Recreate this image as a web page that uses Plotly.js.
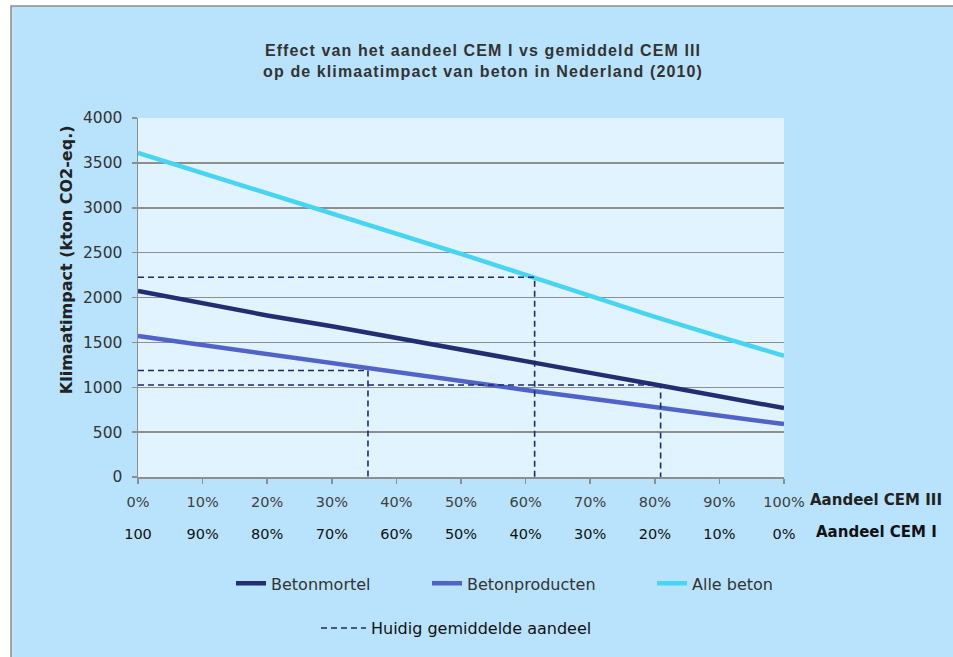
<!DOCTYPE html>
<html>
<head>
<meta charset="utf-8">
<script src="https://cdn.plot.ly/plotly-3.0.1.min.js"></script>
<style>
html,body{margin:0;padding:0;background:#fff;}
#chart{width:953px;height:657px;}
#chart .gtitle{letter-spacing:1.1px;}
</style>
</head>
<body>
<div id="chart"></div>
<script>
// Share of CEM III (%) – x positions
const shareCEMIII = [0, 10, 20, 30, 40, 50, 60, 70, 80, 90, 100];
const cemIIILabels = ['0%', '10%', '20%', '30%', '40%', '50%', '60%', '70%', '80%', '90%', '100%'];
const cemILabels = ['100', '90%', '80%', '70%', '60%', '50%', '40%', '30%', '20%', '10%', '0%'];

// Climate impact (kton CO2-eq.)
const betonmortel = [2072, 1936, 1800, 1680, 1553, 1417, 1290, 1160, 1030, 900, 768];
const betonproducten = [1570, 1470, 1365, 1260, 1160, 1065, 970, 875, 780, 685, 590];
const alleBeton = [3612, 3388, 3163, 2938, 2712, 2485, 2252, 2018, 1785, 1565, 1350];

// Current average share (x, %) and the matching impact (y)
const currentShare = [35.6, 61.4, 80.9];
const currentImpact = [1186, 2225, 1025];

// build the dashed guide segments (horizontal from the y axis, vertical down to 0)
const refX = [], refY = [];
currentShare.forEach(function (s, i) {
  if (i > 0) { refX.push(null); refY.push(null); }
  refX.push(0, s, s);
  refY.push(currentImpact[i], currentImpact[i], 0);
});

const legendFont = {family: 'DejaVu Sans', size: 16, color: '#333333'};

const traces = [
  {x: shareCEMIII, y: betonmortel, name: 'Betonmortel', type: 'scatter', mode: 'lines',
   line: {color: '#212F72', width: 4.5}, legend: 'legend', legendwidth: 151},
  {x: shareCEMIII, y: betonproducten, name: 'Betonproducten', type: 'scatter', mode: 'lines',
   line: {color: '#5063C9', width: 4.5}, legend: 'legend', legendwidth: 180},
  {x: shareCEMIII, y: alleBeton, name: 'Alle beton', type: 'scatter', mode: 'lines',
   line: {color: '#48D4F3', width: 4.5}, legend: 'legend'},
  {x: refX, y: refY, name: 'Huidig gemiddelde aandeel', type: 'scatter', mode: 'lines',
   line: {color: '#1F2A6E', width: 1.6, dash: '6px,4px'}, legend: 'legend2', connectgaps: false},
  {x: [], y: [], xaxis: 'x2', showlegend: false, hoverinfo: 'skip'}
];

const L = 138, R = 169, T = 118, B = 178;
const W = 953, H = 657;
const pw = W - L - R, ph = H - T - B;
const px = function (p) { return (p - L) / pw; };
const py = function (p) { return (H - B - p) / ph; };

const axisGrey = '#8E8E8E';

const layout = {
  width: W, height: H,
  margin: {l: L, r: R, t: T, b: B, pad: 0},
  paper_bgcolor: '#ffffff',
  plot_bgcolor: 'rgba(0,0,0,0)',
  title: {
    text: '<b>Effect van het aandeel CEM I vs gemiddeld CEM III<br>op de klimaatimpact van beton in Nederland (2010)</b>',
    font: {family: 'Liberation Sans', size: 16, color: '#333333'},
    x: 483 / W, xref: 'container', xanchor: 'center',
    y: 1 - 56 / H, yref: 'container', yanchor: 'middle'
  },
  xaxis: {
    range: [0, 100], tickvals: shareCEMIII, ticktext: cemIIILabels,
    showgrid: false, zeroline: false, showline: true, linecolor: axisGrey, linewidth: 1.5,
    ticks: 'outside', ticklen: 5, tickcolor: axisGrey, tickwidth: 1.5,
    tickfont: {family: 'DejaVu Sans', size: 14.5, color: '#404040'},
    ticklabelstandoff: 6, fixedrange: true
  },
  xaxis2: {
    overlaying: 'x', anchor: 'y', side: 'bottom',
    range: [0, 100], tickvals: shareCEMIII, ticktext: cemILabels,
    showgrid: false, zeroline: false, showline: false, ticks: '',
    tickfont: {family: 'DejaVu Sans', size: 14.5, color: '#111111'},
    ticklabelstandoff: 46, fixedrange: true
  },
  yaxis: {
    range: [0, 4000], dtick: 500, tick0: 0,
    showgrid: true, gridcolor: axisGrey, gridwidth: 1.5,
    zeroline: false, showline: true, linecolor: axisGrey, linewidth: 1.5,
    ticks: 'outside', ticklen: 5, tickcolor: axisGrey, tickwidth: 1.5,
    tickfont: {family: 'DejaVu Sans', size: 15.5, color: '#333333'},
    ticklabelstandoff: 6,
    fixedrange: true
  },
  legend: {
    orientation: 'h', x: px(231), xanchor: 'left', y: py(586), yanchor: 'middle',
    font: legendFont, bgcolor: 'rgba(0,0,0,0)', borderwidth: 0, traceorder: 'normal'
  },
  legend2: {
    orientation: 'h', x: px(316), xanchor: 'left', y: py(631), yanchor: 'middle',
    font: {family: 'DejaVu Sans', size: 16, color: '#111111'}, bgcolor: 'rgba(0,0,0,0)', borderwidth: 0,
    itemwidth: 45
  },
  shapes: [
    {type: 'rect', xref: 'paper', yref: 'paper', layer: 'below',
     x0: px(11), x1: px(965), y0: py(670), y1: py(5.5),
     fillcolor: '#B9E3FC', line: {color: '#8F8F8F', width: 1.5}},
    {type: 'rect', xref: 'paper', yref: 'paper', layer: 'below',
     x0: 0, x1: 1, y0: 0, y1: 1, fillcolor: '#E1F3FE', line: {width: 0}}
  ],
  annotations: [
    {text: '<b>Klimaatimpact (kton CO2-eq.)</b>', xref: 'paper', yref: 'paper', x: px(66), y: py(261),
     xanchor: 'center', yanchor: 'middle', textangle: -90, showarrow: false,
     font: {family: 'DejaVu Sans', size: 16, color: '#222222'}},
    {text: '<b>Aandeel CEM III</b>', xref: 'paper', yref: 'paper', x: px(808), y: py(502),
     xanchor: 'left', yanchor: 'middle', showarrow: false,
     font: {family: 'DejaVu Sans', size: 15, color: '#222222'}},
    {text: '<b>Aandeel CEM I</b>', xref: 'paper', yref: 'paper', x: px(814), y: py(534),
     xanchor: 'left', yanchor: 'middle', showarrow: false,
     font: {family: 'DejaVu Sans', size: 15, color: '#111111'}}
  ],
  showlegend: true,
  hovermode: false
};

Plotly.newPlot('chart', traces, layout, {displayModeBar: false, staticPlot: true});
</script>
</body>
</html>
